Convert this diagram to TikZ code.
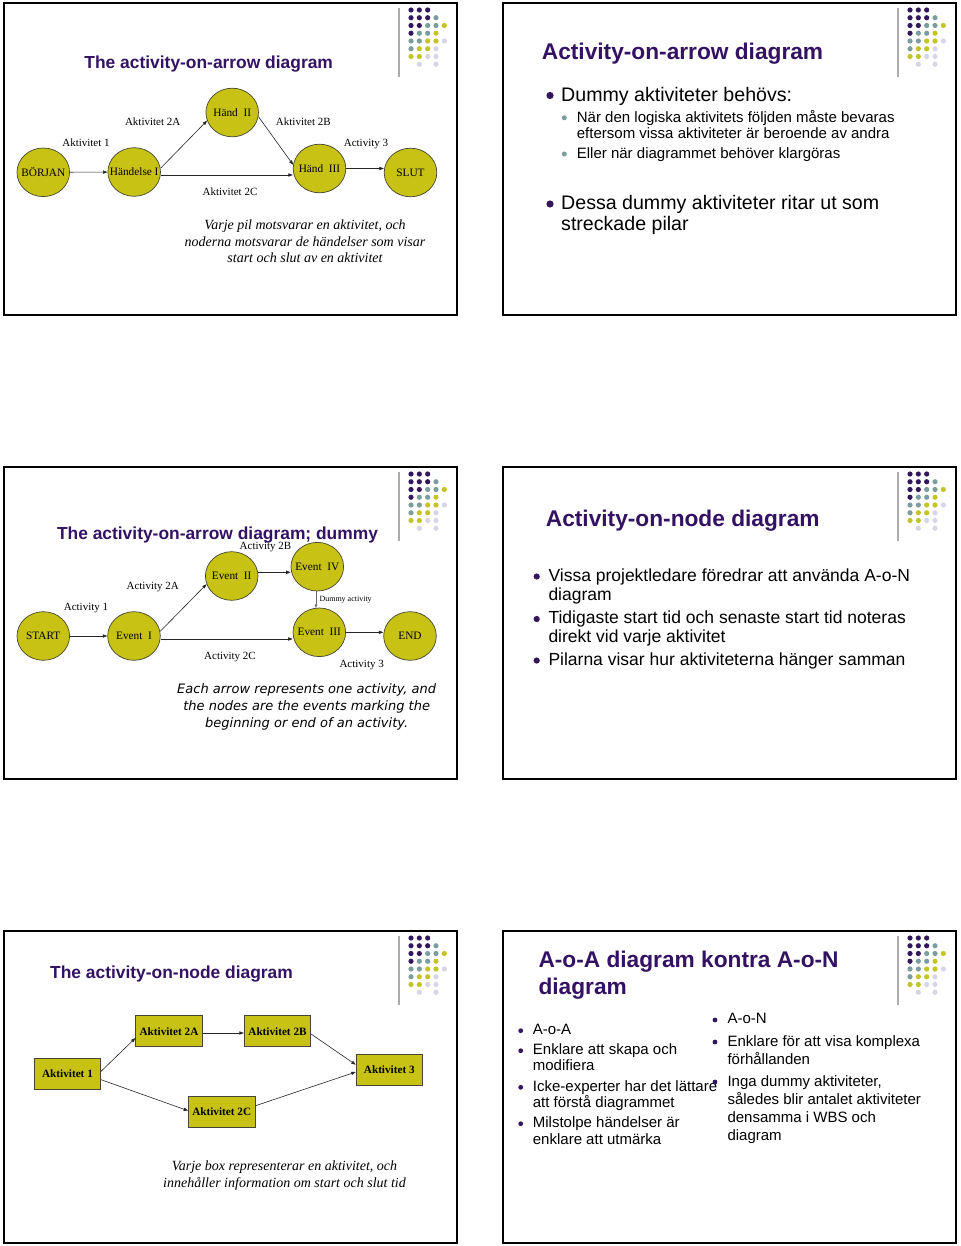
\documentclass[tikz,border=0pt]{standalone}
\usepackage{fontspec}
\setmainfont{Liberation Serif}
\setsansfont{Liberation Sans}
\newfontfamily\comicf{DejaVu Sans}
\usetikzlibrary{arrows.meta,shapes.geometric,calc}
\definecolor{titlec}{RGB}{51,18,99}
\definecolor{dpur}{RGB}{52,22,92}
\definecolor{dteal}{RGB}{122,158,158}
\definecolor{dyel}{RGB}{196,196,40}
\definecolor{dlav}{RGB}{214,214,230}
\definecolor{nodefill}{RGB}{200,194,20}
\definecolor{nodeline}{RGB}{70,70,50}
\newcommand\fs[1]{\fontsize{#1}{#1}\selectfont}
\newcommand\zw[1]{\makebox[0pt]{#1}}
\newcommand\slidedeco[2]{%
  \begin{scope}[shift={(#1,#2)}]
    \draw[line width=2.2pt] (4,3) rectangle (457,315);
    \draw[gray!65, line width=1.3pt] (399,8) -- (399,77);
    \foreach \c/\r/\k in {0/0/dpur,1/0/dpur,2/0/dpur,0/1/dpur,1/1/dpur,2/1/dpur,0/2/dpur,1/2/dpur,0/3/dpur,
      3/1/dteal,2/2/dteal,3/2/dteal,1/3/dteal,2/3/dteal,0/4/dteal,1/4/dteal,0/5/dteal,
      4/2/dyel,3/3/dyel,2/4/dyel,3/4/dyel,1/5/dyel,2/5/dyel,0/6/dyel,1/6/dyel,
      4/4/dlav,3/5/dlav,2/6/dlav,3/6/dlav,1/7/dlav,3/7/dlav}
      \fill[\k] ({411+8.33*\c},{10+7.75*\r}) circle (2.6pt);
  \end{scope}}
\tikzset{
  ev/.style={ellipse, minimum width=52.6pt, minimum height=48.6pt, inner sep=0pt,
    fill=nodefill, draw=nodeline, line width=0.7pt, font=\fs{11.3}},
  actbox/.style={rectangle, minimum width=66.4pt, minimum height=31pt, inner sep=0pt,
    fill=nodefill, draw=nodeline, line width=0.7pt, font=\bfseries\fs{11.2}},
  arr/.style={draw=black!85, line width=0.6pt, -{Triangle[length=4.5pt,width=3.2pt]}},
  dummyarr/.style={draw=black!60, line width=0.45pt, -{Triangle[length=3.5pt,width=2.6pt]}},
  lbl/.style={anchor=base, inner sep=0pt, font=\fs{11}},
  bigtitle/.style={anchor=base west, inner sep=0pt, text=titlec, font=\sffamily\bfseries\fs{22.7}},
  smalltitle/.style={anchor=base, inner sep=0pt, text=titlec, font=\sffamily\bfseries\fs{17.4}},
  btxt/.style={anchor=base west, inner sep=0pt, font=\sffamily\fs{#1}},
  itx/.style={anchor=base, inner sep=0pt, font=\itshape\fs{14}},
  comictx/.style={anchor=base, inner sep=0pt, font=\comicf\itshape\fs{13}}
}
\begin{document}
\begin{tikzpicture}[x=1pt,y=-1pt]
\useasboundingbox (0,0) rectangle (960,1246);
\fill[white] (0,0) rectangle (960,1246);
\slidedeco{0}{0}
\slidedeco{499}{0}
\slidedeco{0}{464}
\slidedeco{499}{464}
\slidedeco{0}{928}
\slidedeco{499}{928}

% ---------- Slide 1 ----------
\node[smalltitle] (t1) at (208.7,68.4) {The activity-on-arrow diagram};
\node[ev] (b1) at (43.3,172.3) {\zw{BÖRJAN}};
\node[ev] (h1) at (134.2,172) {\zw{Händelse I}};
\node[ev] (h2) at (232.2,112.5) {\zw{Händ\ \ II}};
\node[ev] (h3) at (319.5,168.5) {\zw{Händ\ \ III}};
\node[ev] (s1) at (410.5,172.5) {\zw{SLUT}};
\draw[arr] (b1) -- (h1);
\draw[arr] ($(h1.east)+(0,-4)$) -- (h2.198);
\draw[arr] (h2.-9) -- (h3.172);
\draw[arr] ($(h1.east)+(0,3)$) -- ($(h3.west)+(0,6.5)$);
\draw[arr] (h3.east) -- ($(s1.west)+(0,-4)$);
\node[lbl] (l11) at (86,146.9) {Aktivitet 1};
\node[lbl] (l12) at (152.7,125.9) {Aktivitet 2A};
\node[lbl] (l13) at (303.3,125.9) {Aktivitet 2B};
\node[lbl] (l14) at (366,146.9) {Activity 3};
\node[lbl] (l15) at (230,195.9) {Aktivitet 2C};
\node[itx] (i11) at (305,229.3) {Varje pil motsvarar en aktivitet, och};
\node[itx] (i12) at (305,246.1) {noderna motsvarar de händelser som visar};
\node[itx] (i13) at (305,262.7) {start och slut av en aktivitet};

% ---------- Slide 2 ----------
\node[bigtitle] (t2) at (541.7,60) {Activity-on-arrow diagram};
\fill[dpur] (550,95.5) circle (3.6pt);
\node[btxt=19.6] (p21) at (561,101.2) {Dummy aktiviteter behövs:};
\fill[dteal] (564.3,117.8) circle (2.5pt);
\node[btxt=15] (p22) at (576.7,122.2) {När den logiska aktivitets följden måste bevaras};
\node[btxt=15] (p23) at (576.7,138.3) {eftersom vissa aktiviteter är beroende av andra};
\fill[dteal] (564.3,154) circle (2.5pt);
\node[btxt=15] (p24) at (576.7,158.7) {Eller när diagrammet behöver klargöras};
\fill[dpur] (550,204) circle (3.6pt);
\node[btxt=19.6] (p25) at (561,209.5) {Dessa dummy aktiviteter ritar ut som};
\node[btxt=19.6] (p26) at (561,231) {streckade pilar};

% ---------- Slide 3 ----------
\node[smalltitle] (t3) at (217.5,539.7) {The activity-on-arrow diagram; dummy};
\node[ev] (st) at (43.3,636) {\zw{START}};
\node[ev] (e1) at (134,636) {\zw{Event\ \ I}};
\node[ev] (e2) at (231.7,576) {\zw{Event\ \ II}};
\node[ev] (e4) at (317.3,566.7) {\zw{Event\ \ IV}};
\node[ev] (e3) at (319.3,632.3) {\zw{Event\ \ III}};
\node[ev] (en) at (410,636) {\zw{END}};
\draw[arr] (st) -- (e1);
\draw[arr] (e1.10) -- (e2.198);
\draw[arr] ($(e1.east)+(0,3)$) -- ($(e3.west)+(0,6.7)$);
\draw[arr] ($(e2.east)+(0,-3.7)$) -- ($(e4.west)+(0,5.6)$);
\draw[arr] (e3.east) -- ($(en.west)+(0,-3.7)$);
\draw[dummyarr] ($(e4.south)+(-1.3,0)$) -- ($(e3.north)+(-3.3,0.2)$);
\node[lbl] (l31) at (265.5,549.6) {Activity 2B};
\node[lbl] (l32) at (152.7,589.3) {Activity 2A};
\node[lbl] (l33) at (86,610.7) {Activity 1};
\node[lbl] (l34) at (230,659.3) {Activity 2C};
\node[lbl] (l35) at (361.7,667.7) {Activity 3};
\node[anchor=base west, inner sep=0pt, font=\fs{8}] (l36) at (319.3,601.7) {Dummy activity};
\node[comictx] (c31) at (306.7,693.3) {Each arrow represents one activity, and};
\node[comictx] (c32) at (306.7,710.5) {the nodes are the events marking the};
\node[comictx] (c33) at (306.7,727.5) {beginning or end of an activity.};

% ---------- Slide 4 ----------
\node[bigtitle] (t4) at (545.7,526.7) {Activity-on-node diagram};
\fill[dpur] (536.7,576.5) circle (3.1pt);
\node[btxt=17.5] (p41) at (548.3,581.7) {Vissa projektledare föredrar att använda A-o-N};
\node[btxt=17.5] (p42) at (548.3,600.2) {diagram};
\fill[dpur] (536.7,619) circle (3.1pt);
\node[btxt=17.5] (p43) at (548.3,623.5) {Tidigaste start tid och senaste start tid noteras};
\node[btxt=17.5] (p44) at (548.3,642) {direkt vid varje aktivitet};
\fill[dpur] (536.7,660.5) circle (3.1pt);
\node[btxt=17.5] (p45) at (548.3,665.3) {Pilarna visar hur aktiviteterna hänger samman};

% ---------- Slide 5 ----------
\node[smalltitle, anchor=base west] (t5) at (50,978) {The activity-on-node diagram};
\node[actbox] (a1) at (67.5,1073.5) {Aktivitet 1};
\node[actbox] (a2a) at (169,1031.3) {Aktivitet 2A};
\node[actbox] (a2b) at (277.5,1031.3) {Aktivitet 2B};
\node[actbox] (a3) at (389.3,1069.7) {Aktivitet 3};
\node[actbox] (a2c) at (221.7,1111.8) {Aktivitet 2C};
\draw[arr] ($(a1.east)+(0,-2.2)$) -- ($(a2a.west)+(0,6.7)$);
\draw[arr] ($(a2a.east)+(0,1.7)$) -- ($(a2b.west)+(0,1.7)$);
\draw[arr] ($(a2b.east)+(0,2.7)$) -- ($(a3.west)+(0,-5)$);
\draw[arr] ($(a1.east)+(0,6.2)$) -- ($(a2c.west)+(0,-1.1)$);
\draw[arr] ($(a2c.east)+(0,-6)$) -- ($(a3.west)+(0,2.3)$);
\node[itx] (i51) at (284.5,1170.7) {Varje box representerar en aktivitet, och};
\node[itx] (i52) at (284.5,1187.3) {innehåller information om start och slut tid};

% ---------- Slide 6 ----------
\node[bigtitle] (t61) at (538.3,967.3) {A-o-A diagram kontra A-o-N};
\node[bigtitle] (t62) at (538.3,994.3) {diagram};
\fill[dpur] (520.7,1030.7) circle (2.4pt);
\node[btxt=15] (q1) at (532.7,1034) {A-o-A};
\fill[dpur] (520.7,1050.7) circle (2.4pt);
\node[btxt=15] (q2) at (532.7,1054.7) {Enklare att skapa och};
\node[btxt=15] (q3) at (532.7,1070.7) {modifiera};
\fill[dpur] (520.7,1087.3) circle (2.4pt);
\node[btxt=15] (q4) at (532.7,1091.3) {Icke-experter har det lättare};
\node[btxt=15] (q5) at (532.7,1107.3) {att förstå diagrammet};
\fill[dpur] (520.7,1123.7) circle (2.4pt);
\node[btxt=15] (q6) at (532.7,1127.3) {Milstolpe händelser är};
\node[btxt=15] (q7) at (532.7,1144) {enklare att utmärka};
\fill[dpur] (715,1020) circle (2.4pt);
\node[btxt=15] (r1) at (727.3,1023.7) {A-o-N};
\fill[dpur] (715,1042) circle (2.4pt);
\node[btxt=15] (r2) at (727.3,1046.3) {Enklare för att visa komplexa};
\node[btxt=15] (r3) at (727.3,1064) {förhållanden};
\fill[dpur] (715,1082) circle (2.4pt);
\node[btxt=15] (r4) at (727.3,1086.3) {Inga dummy aktiviteter,};
\node[btxt=15] (r5) at (727.3,1104) {således blir antalet aktiviteter};
\node[btxt=15] (r6) at (727.3,1122) {densamma i WBS och};
\node[btxt=15] (r7) at (727.3,1140.7) {diagram};
\end{tikzpicture}
\end{document}
